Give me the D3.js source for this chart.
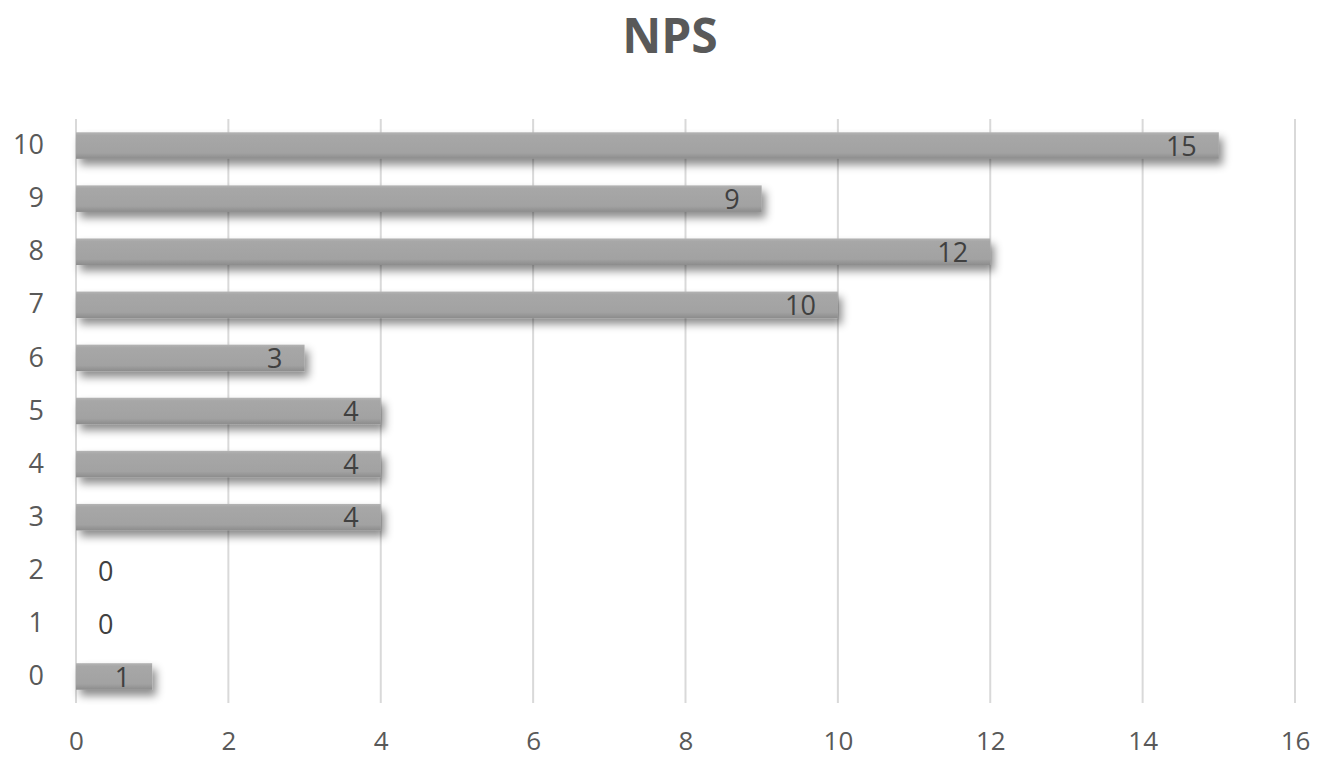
<!DOCTYPE html>
<html>
<head>
<meta charset="utf-8">
<script src="https://cdn.jsdelivr.net/npm/d3@7"></script>
<style>
  html, body { margin: 0; padding: 0; background: #fff; }
  svg { display: block; font-family: "Open Sans", "Liberation Sans", sans-serif; }
</style>
</head>
<body>
<svg id="chart" width="1330" height="760"></svg>
<script>
// NPS score buckets and response counts
const categories = ["0", "1", "2", "3", "4", "5", "6", "7", "8", "9", "10"];
const counts = [1, 0, 0, 4, 4, 4, 3, 10, 12, 9, 15];
const xTicks = [0, 2, 4, 6, 8, 10, 12, 14, 16];
const title = "NPS";

const svg = d3.select("#chart");
const margin = { left: 76, right: 35, top: 119, bottom: 57 };
const W = 1330, H = 760;

const x = d3.scaleLinear().domain([0, 16]).range([margin.left, W - margin.right]);
const y = d3.scaleBand().domain(categories.slice().reverse())
  .range([margin.top, H - margin.bottom]).paddingInner(0.5).paddingOuter(0.25);

const defs = svg.append("defs");
const grad = defs.append("linearGradient").attr("id", "barFill")
  .attr("x1", 0).attr("y1", 0).attr("x2", 0).attr("y2", 1);
grad.append("stop").attr("offset", "0%").attr("stop-color", "#b4b4b4");
grad.append("stop").attr("offset", "12%").attr("stop-color", "#a7a7a7");
grad.append("stop").attr("offset", "78%").attr("stop-color", "#a2a2a2");
grad.append("stop").attr("offset", "100%").attr("stop-color", "#8c8c8c");
const sh = defs.append("filter").attr("id", "shadow")
  .attr("x", "-10%").attr("y", "-50%").attr("width", "130%").attr("height", "230%");
sh.append("feDropShadow").attr("dx", 4).attr("dy", 6).attr("stdDeviation", 4.5)
  .attr("flood-color", "#000").attr("flood-opacity", 0.45);

// Title
svg.append("text").attr("x", 670).attr("y", 53).attr("text-anchor", "middle")
  .attr("font-size", 48).attr("font-weight", "bold").attr("fill", "#595959")
  .text(title);

// Vertical gridlines
svg.append("g").selectAll("line").data(xTicks).join("line")
  .attr("x1", d => x(d)).attr("x2", d => x(d))
  .attr("y1", margin.top).attr("y2", H - margin.bottom)
  .attr("stroke", "#d9d9d9").attr("stroke-width", 2);

// X axis labels
const xAxis = d3.axisBottom(x).tickValues(xTicks).tickSize(0).tickPadding(0);
const gx = svg.append("g").attr("transform", `translate(0,${H - 10})`).call(xAxis);
gx.select(".domain").remove();
gx.attr("font-size", 26).attr("font-family", null);
gx.selectAll("text").attr("fill", "#595959").attr("dy", "0");

// Y axis labels
const yAxis = d3.axisLeft(y).tickSize(0).tickPadding(0);
const gy = svg.append("g").attr("transform", `translate(44,0)`).call(yAxis);
gy.select(".domain").remove();
gy.attr("font-size", 27).attr("font-family", null);
gy.selectAll("text").attr("fill", "#595959");

// Bars
const data = categories.map((c, i) => ({ c, v: counts[i] }));
svg.append("g").selectAll("rect").data(data.filter(d => d.v > 0)).join("rect")
  .attr("x", x(0)).attr("y", d => y(d.c))
  .attr("width", d => x(d.v) - x(0)).attr("height", y.bandwidth())
  .attr("fill", "url(#barFill)").attr("filter", "url(#shadow)");

// Value labels
svg.append("g").selectAll("text").data(data).join("text")
  .attr("x", d => d.v > 0 ? x(d.v) - 22 : x(0) + 22)
  .attr("y", d => y(d.c) + y.bandwidth() / 2)
  .attr("dy", "0.38em")
  .attr("text-anchor", d => d.v > 0 ? "end" : "start")
  .attr("font-size", 27).attr("fill", "#404040")
  .text(d => d.v);
</script>
</body>
</html>
